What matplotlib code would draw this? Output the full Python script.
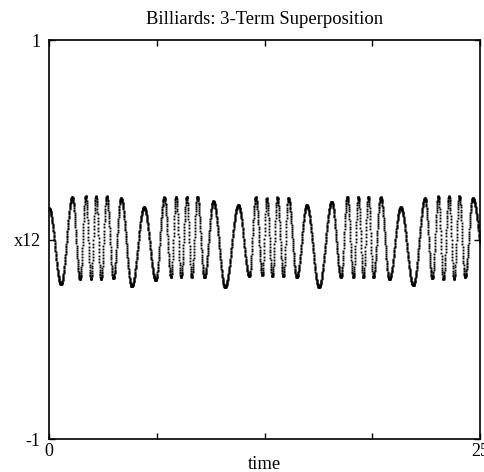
import numpy as np
import matplotlib
matplotlib.use("Agg")
import matplotlib.pyplot as plt

# Times系のセリフ体を使用
plt.rcParams["font.family"] = ["Liberation Serif", "DejaVu Serif"]

# 図から読み取った極大点（時刻, 値）
peak_times = [1.351, 2.129, 2.726, 3.347, 4.176, 5.510, 6.688, 7.367, 7.987, 8.602,
              9.530, 10.981, 11.990, 12.628, 13.243, 13.881, 14.948, 16.398, 17.303, 17.941,
              18.521, 19.240, 20.400, 21.810, 22.581, 23.202, 23.800, 24.577]
peak_values = [0.213, 0.218, 0.218, 0.218, 0.208, 0.163, 0.213, 0.215, 0.215, 0.215,
               0.193, 0.173, 0.213, 0.208, 0.213, 0.208, 0.173, 0.190, 0.215, 0.215,
               0.215, 0.213, 0.163, 0.208, 0.218, 0.218, 0.218, 0.208]

# 図から読み取った極小点（時刻, 値）
trough_times = [0.696, 1.798, 2.436, 3.016, 3.730, 4.797, 6.189, 7.077, 7.657, 8.277,
                9.008, 10.209, 11.619, 12.373, 12.953, 13.591, 14.368, 15.661, 16.937, 17.651,
                18.231, 18.811, 19.739, 21.131, 22.233, 22.871, 23.492, 24.130, 25.350]
trough_values = [-0.223, -0.198, -0.198, -0.198, -0.193, -0.234, -0.203, -0.188, -0.188, -0.188,
                 -0.188, -0.238, -0.182, -0.178, -0.183, -0.183, -0.188, -0.238, -0.188, -0.188,
                 -0.188, -0.188, -0.198, -0.228, -0.193, -0.198, -0.198, -0.188, -0.190]

# t=0 での値
start_value = 0.158

x_ticks = [0, 6.25, 12.5, 18.75, 25]
x_tick_labels = ["0", "", "", "", "25"]
y_ticks = [-1, 0, 1]
y_tick_labels = ["-1", "x12", "1"]


def build_curve(times):
    """極値の間を半周期の余弦でつないだ曲線を返す。"""
    ext_t = np.array([0.0] + peak_times + trough_times)
    ext_v = np.array([start_value] + peak_values + trough_values)
    order = np.argsort(ext_t)
    ext_t, ext_v = ext_t[order], ext_v[order]
    idx = np.searchsorted(ext_t, times, side="right") - 1
    idx = np.clip(idx, 0, len(ext_t) - 2)
    s = (times - ext_t[idx]) / (ext_t[idx + 1] - ext_t[idx])
    return ext_v[idx] + (ext_v[idx + 1] - ext_v[idx]) * (1 - np.cos(np.pi * s)) / 2


# サンプリング間隔（点の間隔）
t = np.arange(0, 25, 0.008)
x12 = build_curve(t)

fig = plt.figure(figsize=(4.84, 4.72), dpi=100)
ax = fig.add_axes([49 / 484, 33 / 472, 431 / 484, 398.5 / 472])

ax.plot(t, x12, linestyle="none", marker="s", markersize=1.35, markeredgewidth=0, color="black")

ax.set_xlim(0, 25)
ax.set_ylim(-1, 1)
ax.set_xticks(x_ticks)
ax.set_xticklabels(x_tick_labels, fontsize=13)
ax.set_yticks(y_ticks)
ax.set_yticklabels(y_tick_labels, fontsize=13)
ax.tick_params(axis="y", pad=6)
ax.tick_params(axis="x", pad=3)
ax.tick_params(direction="in", length=4, width=1, top=True, right=True)

for spine in ax.spines.values():
    spine.set_linewidth(1.2)

ax.set_title("Billiards: 3-Term Superposition", fontsize=13.4, pad=12)
ax.set_xlabel("time", fontsize=13.4, labelpad=-3)

fig.savefig("out.png", dpi=100)
